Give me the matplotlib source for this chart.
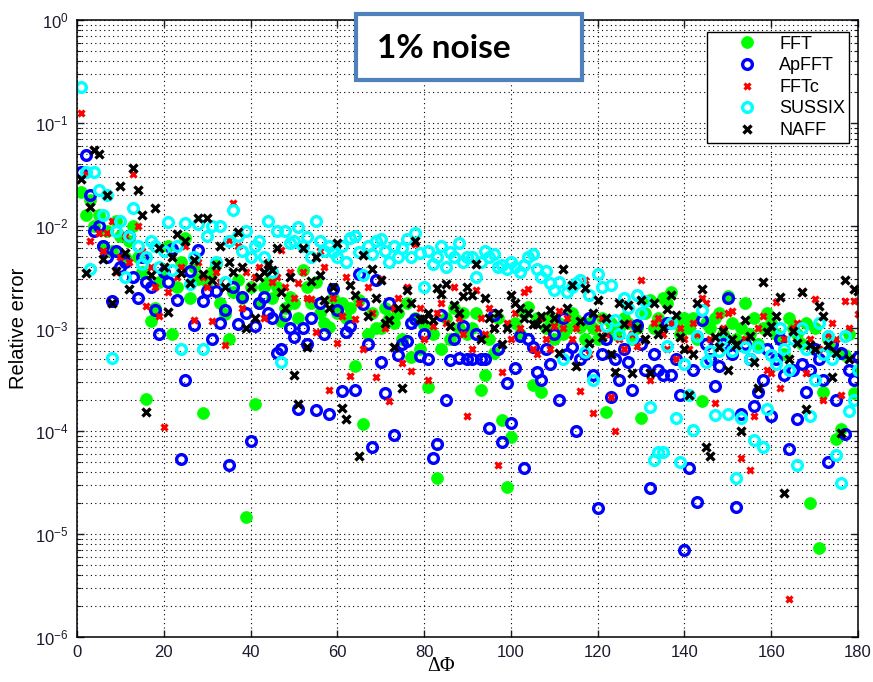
import matplotlib

matplotlib.use("Agg")
import matplotlib.pyplot as plt
import matplotlib.ticker as mticker
from matplotlib.patches import FancyBboxPatch
import numpy as np

# phase advance in degrees, one point per degree
dphi = np.arange(1, 181)

# relative error, stored as log10 values
fft_log = [
    -1.67, -1.90, -1.75, -2.00, -1.90, -2.20, -2.05, -2.25, -1.95, -2.10,
    -2.30, -2.15, -2.00, -2.30, -2.45, -3.69, -2.93, -2.80, -2.55, -2.46,
    -2.20, -3.05, -2.60, -2.35, -2.12, -2.70, -2.40, -2.52, -3.82, -2.55,
    -2.45, -2.37, -2.75, -2.86, -3.10, -2.65, -2.53, -2.70, -4.83, -2.60,
    -3.73, -2.75, -2.60, -2.55, -2.70, -2.60, -2.93, -2.80, -2.69, -2.75,
    -2.90, -2.43, -2.60, -2.75, -2.55, -2.85, -2.95, -2.99, -2.70, -2.85,
    -2.75, -2.90, -2.80, -3.36, -2.72, -3.93, -3.05, -2.85, -3.00, -3.00,
    -2.80, -2.90, -2.95, -2.85, -3.10, -2.75, -3.28, -2.90, -3.20, -2.97,
    -3.57, -3.05, -4.45, -3.20, -2.90, -3.10, -2.80, -3.00, -2.85, -3.05,
    -3.00, -2.85, -3.60, -3.45, -3.10, -3.24, -2.90, -3.89, -4.54, -4.06,
    -2.95, -3.05, -2.85, -2.79, -3.55, -2.90, -3.62, -3.00, -2.90, -3.10,
    -2.95, -3.05, -3.00, -2.85, -2.92, -2.99, -3.10, -2.95, -3.00, -3.10,
    -2.90, -3.81, -2.95, -3.05, -3.00, -2.90, -2.95, -3.10, -3.00, -3.87,
    -2.85, -2.72, -3.00, -2.90, -2.70, -2.75, -2.65, -2.95, -3.05, -2.90,
    -3.00, -2.90, -3.10, -3.71, -2.95, -3.00, -2.90, -2.85, -3.05, -2.68,
    -2.95, -3.10, -3.00, -2.75, -3.05, -2.90, -3.15, -3.00, -2.85, -2.95,
    -3.05, -3.10, -3.25, -2.90, -3.00, -3.05, -3.15, -2.95, -4.70, -3.00,
    -5.13, -3.62, -3.10, -3.20, -4.07, -3.98, -3.26, -3.05, -3.63, -3.40,
]

apfft_log = [
    -1.48, -1.31, -1.70, -2.05, -2.00, -2.20, -2.30, -2.73, -2.25, -2.40,
    -2.35, -2.10, -2.50, -2.70, -2.30, -2.55, -2.60, -2.82, -3.05, -2.45,
    -2.55, -2.23, -2.72, -4.27, -3.50, -2.44, -2.97, -2.24, -2.73, -2.64,
    -3.10, -2.64, -2.95, -2.82, -4.33, -2.60, -2.96, -2.69, -2.85, -4.09,
    -2.98, -2.75, -2.69, -2.85, -2.90, -3.24, -3.20, -2.87, -3.00, -3.08,
    -3.78, -3.00, -3.15, -2.90, -3.79, -2.75, -3.05, -3.83, -2.62, -2.82,
    -3.61, -3.03, -2.98, -3.60, -2.47, -2.76, -3.15, -4.15, -2.53, -3.33,
    -3.63, -2.75, -4.04, -3.26, -3.15, -3.12, -2.95, -2.91, -3.27, -3.05,
    -3.30, -4.26, -4.12, -2.87, -3.70, -3.31, -3.10, -3.29, -2.98, -3.30,
    -3.30, -3.05, -3.30, -3.30, -3.97, -2.87, -3.20, -4.10, -3.53, -3.92,
    -3.38, -3.07, -4.36, -3.10, -3.18, -3.42, -3.50, -3.20, -3.35, -3.05,
    -3.70, -2.90, -3.25, -3.18, -4.00, -3.30, -3.25, -2.90, -3.45, -4.75,
    -3.25, -3.10, -3.67, -3.30, -3.50, -3.20, -3.33, -3.60, -2.97, -3.15,
    -3.40, -4.55, -3.25, -3.40, -3.45, -2.95, -3.45, -3.30, -3.65, -5.15,
    -4.36, -3.40, -4.69, -2.92, -3.15, -3.30, -3.56, -3.36, -3.15, -2.70,
    -3.25, -4.74, -3.83, -3.15, -3.30, -3.75, -3.62, -3.50, -3.20, -3.85,
    -3.30, -3.10, -3.45, -4.17, -3.40, -3.88, -3.35, -3.62, -3.40, -3.20,
    -3.30, -3.50, -4.30, -3.15, -3.70, -3.24, -4.03, -3.40, -3.50, -3.28,
]

fftc_log = [
    -0.90, -1.50, -2.15, -1.26, -2.07, -2.25, -2.07, -1.95, -2.45, -2.30,
    -2.10, -2.35, -1.50, -2.00, -2.25, -2.78, -2.40, -2.60, -2.88, -3.96,
    -2.65, -2.30, -2.50, -2.40, -2.20, -2.55, -2.92, -2.35, -2.50, -2.60,
    -2.93, -2.45, -2.55, -3.16, -2.14, -1.78, -2.20, -2.80, -2.45, -2.60,
    -2.50, -2.40, -2.90, -2.35, -2.55, -2.50, -2.24, -2.60, -2.45, -2.70,
    -2.56, -2.45, -2.70, -2.71, -3.03, -2.25, -2.40, -3.60, -2.70, -3.14,
    -2.88, -2.50, -3.46, -2.91, -2.75, -3.20, -2.60, -2.85, -3.47, -2.52,
    -3.00, -3.71, -2.80, -2.70, -3.34, -2.60, -3.41, -2.18, -2.80, -3.10,
    -3.50, -2.98, -2.85, -2.75, -2.95, -2.98, -2.60, -2.90, -3.05, -3.85,
    -3.20, -2.63, -2.90, -3.05, -2.80, -3.00, -4.33, -3.42, -2.95, -3.10,
    -2.85, -3.00, -2.65, -2.62, -3.20, -3.25, -2.90, -3.10, -3.20, -2.98,
    -2.83, -3.00, -2.90, -3.10, -3.00, -3.61, -2.53, -3.25, -3.82, -3.00,
    -2.90, -3.05, -3.67, -4.00, -3.10, -3.20, -2.95, -3.05, -3.17, -2.53,
    -3.10, -3.50, -2.95, -2.90, -3.05, -3.20, -2.95, -3.30, -3.00, -3.10,
    -3.20, -2.95, -3.05, -2.70, -2.75, -3.10, -3.72, -2.87, -3.00, -2.85,
    -2.83, -3.15, -4.26, -3.10, -4.38, -3.85, -3.00, -2.88, -3.40, -3.43,
    -2.74, -3.58, -3.10, -5.63, -3.00, -2.95, -2.65, -3.43, -3.10, -2.71,
    -3.20, -3.70, -3.05, -2.95, -3.10, -3.65, -2.73, -3.00, -2.73, -2.86,
]

sussix_log = [
    -0.65, -1.48, -2.42, -1.48, -1.65, -1.90, -1.70, -3.29, -2.05, -1.95,
    -2.50, -2.10, -1.83, -2.20, -2.37, -2.30, -2.15, -2.20, -2.40, -2.25,
    -1.96, -2.43, -2.20, -3.20, -1.97, -2.57, -2.30, -1.98, -3.20, -2.10,
    -2.00, -2.35, -2.00, -2.55, -2.15, -1.85, -2.10, -2.25, -2.05, -2.30,
    -2.20, -2.15, -2.30, -1.95, -2.45, -2.05, -3.33, -2.05, -2.17, -2.15,
    -2.01, -2.20, -2.11, -2.30, -1.95, -2.15, -2.25, -2.20, -2.26, -2.30,
    -2.20, -2.35, -2.12, -2.10, -2.26, -2.48, -2.20, -2.28, -2.15, -2.13,
    -2.25, -2.35, -2.20, -2.30, -2.22, -2.13, -2.30, -2.07, -2.27, -2.60,
    -2.25, -2.37, -2.30, -2.20, -2.40, -2.26, -2.30, -2.17, -2.35, -2.30,
    -2.30, -2.50, -2.35, -2.25, -2.30, -2.28, -2.40, -2.38, -2.42, -2.35,
    -2.40, -2.45, -2.38, -2.30, -2.28, -2.42, -2.50, -2.44, -2.56, -2.63,
    -2.55, -3.30, -2.65, -2.60, -2.56, -2.53, -3.23, -2.67, -3.50, -2.47,
    -2.60, -2.98, -2.58, -2.92, -3.05, -2.70, -2.80, -3.09, -2.67, -2.85,
    -2.73, -3.76, -4.28, -4.20, -4.20, -3.17, -2.95, -3.87, -4.30, -3.35,
    -3.65, -3.99, -3.07, -2.82, -3.33, -3.22, -3.84, -3.22, -3.10, -3.83,
    -3.22, -4.45, -3.87, -3.18, -3.30, -4.08, -3.18, -4.15, -3.78, -3.26,
    -3.35, -3.00, -3.20, -3.40, -3.10, -4.33, -3.00, -3.20, -3.85, -3.50,
    -2.95, -3.25, -3.07, -3.30, -4.23, -4.50, -3.07, -3.80, -3.70, -3.40,
]

naff_log = [
    -1.55, -2.46, -1.82, -1.26, -1.30, -2.32, -1.70, -2.75, -2.44, -1.61,
    -2.27, -2.62, -1.44, -1.65, -1.90, -3.81, -2.48, -1.83, -2.22, -2.40,
    -2.84, -2.30, -2.08, -2.46, -2.15, -2.56, -2.33, -1.93, -2.47, -1.93,
    -2.53, -2.38, -2.20, -2.60, -2.35, -2.45, -2.06, -2.40, -3.00, -2.60,
    -2.90, -2.50, -2.45, -2.37, -2.43, -2.22, -2.65, -2.80, -2.50, -3.45,
    -3.73, -2.22, -3.18, -2.54, -2.30, -2.48, -2.72, -2.80, -2.60, -2.17,
    -3.77, -3.88, -2.58, -2.67, -4.24, -2.29, -2.88, -2.42, -2.70, -2.53,
    -2.95, -2.92, -3.18, -2.80, -3.58, -2.63, -2.75, -2.15, -2.91, -2.91,
    -2.85, -2.92, -2.61, -2.66, -2.57, -2.98, -2.77, -2.85, -2.68, -2.60,
    -2.67, -2.37, -3.10, -2.70, -2.90, -3.00, -2.85, -3.15, -3.00, -2.67,
    -2.75, -2.80, -2.90, -2.85, -2.96, -2.96, -2.88, -3.00, -2.82, -2.90,
    -3.24, -2.42, -2.80, -2.58, -3.36, -2.93, -2.61, -3.14, -2.85, -2.72,
    -3.08, -2.90, -3.25, -3.42, -2.75, -2.96, -2.77, -3.43, -3.00, -2.72,
    -3.10, -3.43, -2.75, -3.05, -3.00, -2.81, -2.67, -2.87, -3.08, -3.20,
    -3.65, -3.25, -2.75, -2.62, -4.15, -4.24, -3.08, -3.18, -3.02, -3.40,
    -3.10, -3.16, -4.00, -2.92, -3.07, -3.33, -3.58, -2.55, -3.03, -2.98,
    -2.88, -2.69, -4.60, -3.30, -3.02, -3.14, -2.65, -3.78, -3.16, -3.20,
    -2.78, -2.88, -3.16, -3.47, -3.24, -4.02, -2.53, -3.30, -2.62, -2.64,
]

x_ticks = [0, 20, 40, 60, 80, 100, 120, 140, 160, 180]
y_ticks = [1e-6, 1e-5, 1e-4, 1e-3, 1e-2, 1e-1, 1e0]

STYLES = {
    "FFT": dict(marker="o", ms=8.6, mfc="#00ff00", mec="#00ff00", mew=0.5),
    "ApFFT": dict(marker="o", ms=7, mfc="none", mec="#0000ff", mew=2.4),
    "FFTc": dict(marker="x", ms=4.8, mfc="#ff0000", mec="#ff0000", mew=2.3),
    "SUSSIX": dict(marker="o", ms=7, mfc="none", mec="#00ffff", mew=2.4),
    "NAFF": dict(marker="x", ms=5.2, mfc="k", mec="k", mew=2.4),
}

series = [
    ("FFT", fft_log),
    ("ApFFT", apfft_log),
    ("FFTc", fftc_log),
    ("SUSSIX", sussix_log),
    ("NAFF", naff_log),
]

plt.rcParams["font.family"] = ["Liberation Sans", "DejaVu Sans"]

fig = plt.figure(figsize=(8.73, 6.82), dpi=100)
ax = fig.add_axes([0.0882, 0.066, 0.8946, 0.9047])

for label, logs in series:
    ax.plot(dphi, 10.0 ** np.asarray(logs), linestyle="none", label=label, **STYLES[label])

ax.set_yscale("log")
ax.set_xlim(0, 180)
ax.set_ylim(1e-6, 1)
ax.set_xticks(x_ticks)
ax.yaxis.set_major_locator(mticker.FixedLocator(y_ticks))
ax.yaxis.set_major_formatter(mticker.LogFormatterSciNotation(base=10))
minor_y = [m * d for d in y_ticks[:-1] for m in range(2, 10)]
ax.yaxis.set_minor_locator(mticker.FixedLocator(minor_y))
ax.yaxis.set_minor_formatter(mticker.NullFormatter())

grid_style = dict(color="k", linestyle=(0, (1, 3)), linewidth=0.8)
ax.grid(True, which="major", axis="both", **grid_style)
ax.grid(True, which="minor", axis="y", **grid_style)
ax.set_axisbelow(True)

ax.tick_params(which="both", direction="in", top=True, right=True, labelsize=12, colors="#1a1a2e")
ax.tick_params(which="major", length=5, width=1, pad=6)
ax.tick_params(which="minor", length=3, width=0.8)
for spine in ax.spines.values():
    spine.set_linewidth(1.1)

ax.set_ylabel("Relative error", fontsize=14.5)
ax.yaxis.set_label_coords(-0.063, 0.5)
ax.set_xlabel("ΔΦ", fontsize=14.5, family="Liberation Serif")
ax.xaxis.set_label_coords(0.466, -0.033)

ax.legend(
    loc="upper right",
    bbox_to_anchor=(0.9885, 0.9805),
    fontsize=13,
    frameon=True,
    fancybox=False,
    framealpha=1,
    edgecolor="k",
    borderpad=0.21,
    handlelength=4.1,
    handletextpad=-0.29,
    labelspacing=0.25,
    borderaxespad=0,
)
ax.get_legend().get_frame().set_linewidth(1.0)

fig.patches.append(
    FancyBboxPatch(
        (0.408, 0.883), 0.259, 0.096,
        boxstyle="square,pad=0",
        transform=fig.transFigure,
        facecolor="white",
        edgecolor="#4f81bd",
        linewidth=3,
        zorder=5,
    )
)
fig.text(0.432, 0.929, "1% noise", fontsize=24, weight="bold", family=["Lato", "DejaVu Sans"],
         va="center", ha="left", zorder=6)

fig.savefig("out.png", dpi=100)
